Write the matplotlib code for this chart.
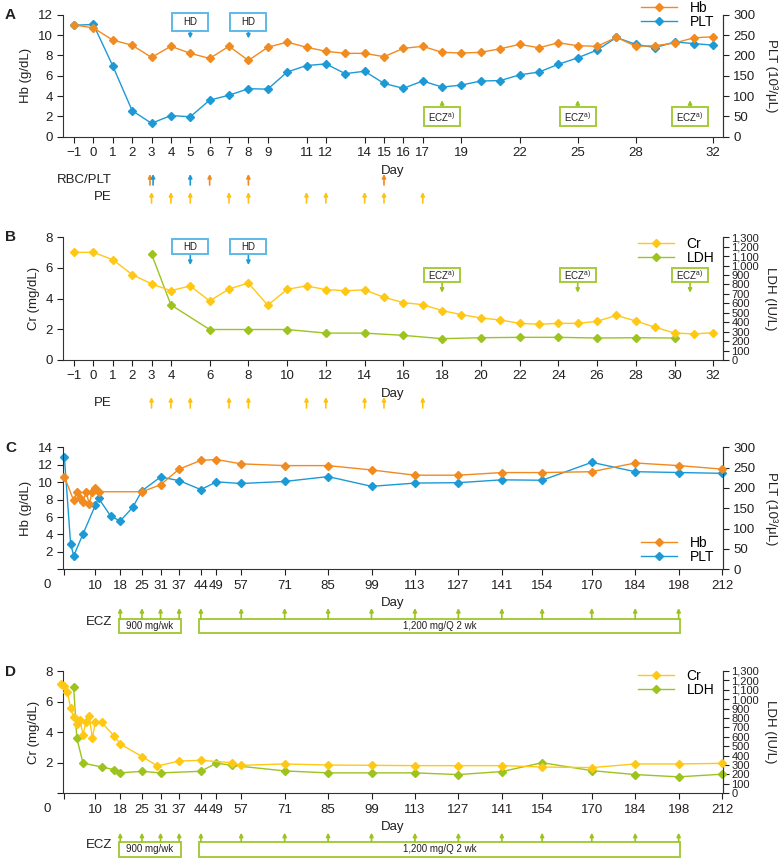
import matplotlib
matplotlib.use("Agg")
import matplotlib.pyplot as plt
from matplotlib.lines import Line2D
from matplotlib.patches import Rectangle
from matplotlib.transforms import blended_transform_factory

plt.rcParams["font.family"] = ["Liberation Sans", "DejaVu Sans"]
plt.rcParams["mathtext.fontset"] = "custom"
plt.rcParams["mathtext.rm"] = "Liberation Sans"
plt.rcParams["font.size"] = 9.5

# ---- panel A / B: day -1 .. 32
days_ab = list(range(-1, 33))
hb_a = [11.0, 10.7, 9.5, 9.0, 7.8, 8.9, 8.2, 7.7, 8.9, 7.5, 8.8, 9.3, 8.8, 8.4, 8.2, 8.2,
        7.87, 8.69, 8.89, 8.3, 8.23, 8.3, 8.65, 9.08, 8.75, 9.24, 8.95, 8.89, 9.77, 8.89,
        8.95, 9.21, 9.73, 9.83]
plt_a = [274, 276, 174, 64, 33, 52, 49, 90, 102, 118, 117, 159, 175, 179, 155, 161, 131,
         119, 137, 122, 127, 137, 138, 152, 159, 178, 194, 213, 244, 227, 219, 233, 229, 225]
cr_b = [7.02, 7.02, 6.54, 5.57, 4.96, 4.52, 4.83, 3.85, 4.63, 5.02, 3.57, 4.61, 4.83, 4.59,
        4.52, 4.57, 4.09, 3.74, 3.61, 3.22, 2.96, 2.74, 2.61, 2.39, 2.33, 2.39, 2.39, 2.52,
        2.91, 2.54, 2.13, 1.76, 1.70, 1.78]
ldh_b_days = [3, 4, 6, 8, 10, 12, 14, 16, 18, 20, 22, 24, 26, 28, 30]
ldh_b = [1123, 584, 323, 323, 323, 285, 285, 261, 226, 236, 240, 240, 233, 236, 233]

ticks_a = [-1, 0, 1, 2, 3, 4, 5, 6, 7, 8, 9, 11, 12, 14, 15, 16, 17, 19, 22, 25, 28, 32]
ticks_b = [-1, 0, 1, 2, 3, 4] + list(range(6, 33, 2))

hd_days = [5, 8]
ecz_days_ab = [18, 25, 30.8]
rbc_days = [3, 6, 8, 15]
plt_tx_days = [3, 5]
pe_days = [3, 4, 5, 7, 8, 11, 12, 14, 15, 17]

# ---- panel C / D: day 0 .. 212
hb_c_days = [0, 3, 4, 5, 6, 7, 8, 9, 10, 11, 25, 31, 37, 44, 49, 57, 71, 85, 99, 113, 127,
             141, 154, 170, 184, 198, 212]
hb_c = [10.6, 7.9, 8.9, 8.2, 7.7, 8.9, 7.5, 8.9, 9.3, 8.9, 8.9, 9.7, 11.5, 12.5, 12.6, 12.1,
        11.9, 11.9, 11.4, 10.8, 10.8, 11.1, 11.1, 11.2, 12.2, 11.9, 11.5]
plt_c_days = [0, 2, 3, 6, 10, 11, 15, 18, 22, 25, 31, 37, 44, 49, 57, 71, 85, 99, 113, 127,
              141, 154, 170, 184, 198, 212]
plt_c = [275, 63, 33, 87, 158, 175, 130, 119, 152, 193, 227, 218, 196, 215, 211, 216, 228,
         204, 212, 213, 220, 219, 263, 240, 238, 236]
cr_d_days = [-1, 0, 1, 2, 3, 4, 5, 6, 7, 8, 9, 10, 12, 16, 18, 25, 30, 37, 44, 54, 57, 71,
             85, 99, 113, 127, 141, 154, 170, 184, 198, 212]
cr_d = [7.13, 7.02, 6.6, 5.58, 4.99, 4.53, 4.8, 3.84, 4.69, 5.04, 3.62, 4.66, 4.64, 3.75,
        3.23, 2.40, 1.79, 2.11, 2.16, 2.0, 1.83, 1.92, 1.85, 1.83, 1.81, 1.81, 1.81, 1.72,
        1.68, 1.92, 1.92, 1.96]
ldh_d_days = [3, 4, 6, 12, 16, 18, 25, 31, 44, 49, 54, 71, 85, 99, 113, 127, 141, 154, 170,
              184, 198, 212]
ldh_d = [1125, 587, 321, 280, 252, 217, 234, 217, 234, 321, 297, 238, 217, 217, 217, 199,
         231, 325, 241, 199, 175, 203]

ticks_cd = [10, 18, 25, 31, 37, 44, 49, 57, 71, 85, 99, 113, 127, 141, 154, 170, 184, 198, 212]
ecz_days_cd = [18, 25, 31, 37, 44, 57, 71, 85, 99, 113, 127, 141, 154, 170, 184, 198]
ecz_periods = [("900 mg/wk", 18, 37), ("1,200 mg/Q 2 wk", 44, 198)]

ORANGE = "#F18A1F"
BLUE = "#1C9AD6"
YELLOW = "#FFC814"
GREEN = "#9CC31E"
GOLD = "#FFC20E"
HDBOX = "#5DB9E8"
ECZBOX = "#A6CB3C"
INK = "#231F20"

W, H = 782, 858
fig = plt.figure(figsize=(W / 100, H / 100), dpi=100)


def make_axes(top, bottom):
    ax = fig.add_axes([63 / W, 1 - bottom / H, 660 / W, (bottom - top) / H])
    ax2 = ax.twinx()
    for a in (ax, ax2):
        a.spines["top"].set_visible(False)
        for s in a.spines.values():
            s.set_color("#333333")
            s.set_linewidth(0.8)
        a.tick_params(direction="out", length=4, width=0.8, colors=INK, labelsize=9.5)
    ax2.spines["left"].set_visible(False)
    ax2.spines["bottom"].set_visible(False)
    ax.set_xlabel("Day", color=INK, labelpad=4)
    ax.set_zorder(ax2.get_zorder() + 1)
    ax.patch.set_visible(False)
    return ax, ax2


def yfig(px):
    return 1 - px / H


def arrow(ax, day, tip, tail, color, coords="figure fraction"):
    ax.annotate("", xy=(day, tip), xytext=(day, tail),
                xycoords=("data", coords), textcoords=("data", coords),
                arrowprops=dict(arrowstyle="-|>", color=color, lw=1.2, mutation_scale=5.5,
                                shrinkA=0, shrinkB=0),
                annotation_clip=False)


def boxed_label(ax, day, y0, y1, half, text, edge, size=7):
    tr = ax.get_xaxis_transform()
    ax.add_patch(Rectangle((day - half, y0), 2 * half, y1 - y0, transform=tr,
                           facecolor="white", edgecolor=edge, lw=1.4, clip_on=False,
                           zorder=5))
    ax.text(day, (y0 + y1) / 2, text, transform=tr, ha="center", va="center",
            fontsize=size, color=INK, zorder=6)


def legend(ax, labels, colors, anchor, loc):
    handles = [Line2D([], [], color=c, marker="D", markersize=3.6, lw=1) for c in colors]
    ax.legend(handles, labels, loc=loc, bbox_to_anchor=anchor, frameon=False,
              handlelength=2.6, handletextpad=0.9, labelspacing=0.0, fontsize=10,
              borderaxespad=0)


def series(ax, x, y, color):
    ax.plot(x, y, color=color, lw=1, marker="D", markersize=3.6, clip_on=False, zorder=3)


def ldh_ticks(ax2):
    ax2.set_ylim(0, 1300)
    ax2.set_yticks(range(0, 1301, 100))
    ax2.set_yticklabels([f"{v:,}" for v in range(0, 1301, 100)])
    ax2.tick_params(axis="y", labelsize=8, pad=2)
    ax2.set_ylabel("LDH (IU/L)", color=INK, rotation=270, labelpad=12)


def origin_zero(ax):
    ax.text(-0.018, -0.128, "0", transform=ax.transAxes, ha="right", va="center",
            fontsize=9.5, color=INK)


# ------------------------------------------------------------------ A
axA, axA2 = make_axes(14.7, 136.7)
series(axA2, days_ab, plt_a, BLUE)
series(axA, days_ab, hb_a, ORANGE)
axA.set_xlim(-1.57, 32.5)
axA.set_ylim(0, 12)
axA2.set_ylim(0, 300)
axA.set_yticks(range(0, 13, 2))
axA2.set_yticks(range(0, 301, 50))
axA.set_xticks(ticks_a)
axA.set_xticklabels([str(t).replace("-", "\u2212") for t in ticks_a])
axA.set_ylabel("Hb (g/dL)", color=INK)
axA2.set_ylabel("PLT (10\u00b3/\u03bcL)", color=INK, rotation=270, labelpad=16)
for d in hd_days:
    boxed_label(axA, d, 0.869, 1.011, 0.93, "HD", HDBOX)
    arrow(axA, d, 0.805, 0.869, BLUE, coords="axes fraction")
for d in ecz_days_ab:
    boxed_label(axA, d, 0.088, 0.241, 0.93, r"ECZ$^{\rm a)}$", ECZBOX)
    arrow(axA, d, 0.30, 0.241, GREEN, coords="axes fraction")
legend(axA, ["Hb", "PLT"], [ORANGE, BLUE], (0.995, 1.155), "upper right")

fig.text(112 / W, yfig(180), "RBC/PLT", ha="right", va="center", fontsize=9.5, color=INK)
fig.text(112 / W, yfig(197), "PE", ha="right", va="center", fontsize=9.5, color=INK)
for d in rbc_days:
    off = -0.08 if d in plt_tx_days else 0
    arrow(axA, d + off, yfig(174), yfig(185), ORANGE)
for d in plt_tx_days:
    off = 0.08 if d in rbc_days else 0
    arrow(axA, d + off, yfig(174), yfig(185), BLUE)
for d in pe_days:
    arrow(axA, d, yfig(192), yfig(203), GOLD)

# ------------------------------------------------------------------ B
axB, axB2 = make_axes(237.3, 360)
series(axB2, ldh_b_days, ldh_b, GREEN)
series(axB, days_ab, cr_b, YELLOW)
axB.set_xlim(-1.57, 32.5)
axB.set_ylim(0, 8)
ldh_ticks(axB2)
axB.set_yticks(range(0, 9, 2))
axB.set_xticks(ticks_b)
axB.set_xticklabels([str(t).replace("-", "\u2212") for t in ticks_b])
axB.set_ylabel("Cr (mg/dL)", color=INK)
for d in hd_days:
    boxed_label(axB, d, 0.861, 0.986, 0.93, "HD", HDBOX)
    arrow(axB, d, 0.774, 0.861, BLUE, coords="axes fraction")
for d in ecz_days_ab:
    boxed_label(axB, d, 0.638, 0.752, 0.93, r"ECZ$^{\rm a)}$", ECZBOX)
    arrow(axB, d, 0.548, 0.638, GREEN, coords="axes fraction")
legend(axB, ["Cr", "LDH"], [YELLOW, GREEN], (0.995, 1.045), "upper right")
fig.text(112 / W, yfig(403), "PE", ha="right", va="center", fontsize=9.5, color=INK)
for d in pe_days:
    arrow(axB, d, yfig(397), yfig(408), GOLD)


# ------------------------------------------------------------------ C / D
def ecz_row(ax, arrow_top, box_top, box_bottom, label_y):
    fig.text(112 / W, yfig(label_y), "ECZ", ha="right", va="center", fontsize=9.5, color=INK)
    for d in ecz_days_cd:
        arrow(ax, d, yfig(arrow_top), yfig(box_top), GREEN)
    tr = blended_transform_factory(ax.transData, fig.transFigure)
    for text, d0, d1 in ecz_periods:
        ax.add_patch(Rectangle((d0 - 0.5, yfig(box_bottom)), d1 - d0 + 1,
                               yfig(box_top) - yfig(box_bottom), transform=tr,
                               facecolor="white", edgecolor=ECZBOX, lw=1.4, clip_on=False))
        ax.text((d0 + d1) / 2, yfig((box_top + box_bottom) / 2), text, transform=tr,
                ha="center", va="center", fontsize=7, color=INK)


axC, axC2 = make_axes(447.3, 569.3)
series(axC2, plt_c_days, plt_c, BLUE)
series(axC, hb_c_days, hb_c, ORANGE)
axC.set_xlim(-0.45, 212.3)
axC.set_ylim(0, 14)
axC2.set_ylim(0, 300)
axC.set_yticks(range(0, 15, 2))
axC.set_yticklabels([""] + [str(v) for v in range(2, 15, 2)])
axC2.set_yticks(range(0, 301, 50))
axC.set_xticks([0] + ticks_cd)
axC.set_xticklabels([""] + [str(t) for t in ticks_cd])
origin_zero(axC)
axC.set_ylabel("Hb (g/dL)", color=INK)
axC2.set_ylabel("PLT (10\u00b3/\u03bcL)", color=INK, rotation=270, labelpad=16)
legend(axC, ["Hb", "PLT"], [ORANGE, BLUE], (0.995, 0.0), "lower right")
ecz_row(axC, 608, 619, 633.3, 622)

axD, axD2 = make_axes(671, 793.3)
series(axD2, ldh_d_days, ldh_d, GREEN)
series(axD, cr_d_days, cr_d, YELLOW)
axD.set_xlim(-0.45, 212.3)
axD.set_ylim(0, 8)
ldh_ticks(axD2)
axD.set_yticks(range(0, 9, 2))
axD.set_yticklabels([""] + [str(v) for v in range(2, 9, 2)])
axD.set_xticks([0] + ticks_cd)
axD.set_xticklabels([""] + [str(t) for t in ticks_cd])
origin_zero(axD)
axD.set_ylabel("Cr (mg/dL)", color=INK)
legend(axD, ["Cr", "LDH"], [YELLOW, GREEN], (0.995, 1.06), "upper right")
ecz_row(axD, 832.7, 841.7, 856.7, 845)

for letter, ypx in [("A", 15), ("B", 237), ("C", 448), ("D", 672)]:
    fig.text(5 / W, yfig(ypx), letter, fontsize=11, fontweight="bold", color=INK,
             ha="left", va="center")

fig.savefig("out.png", dpi=100)
